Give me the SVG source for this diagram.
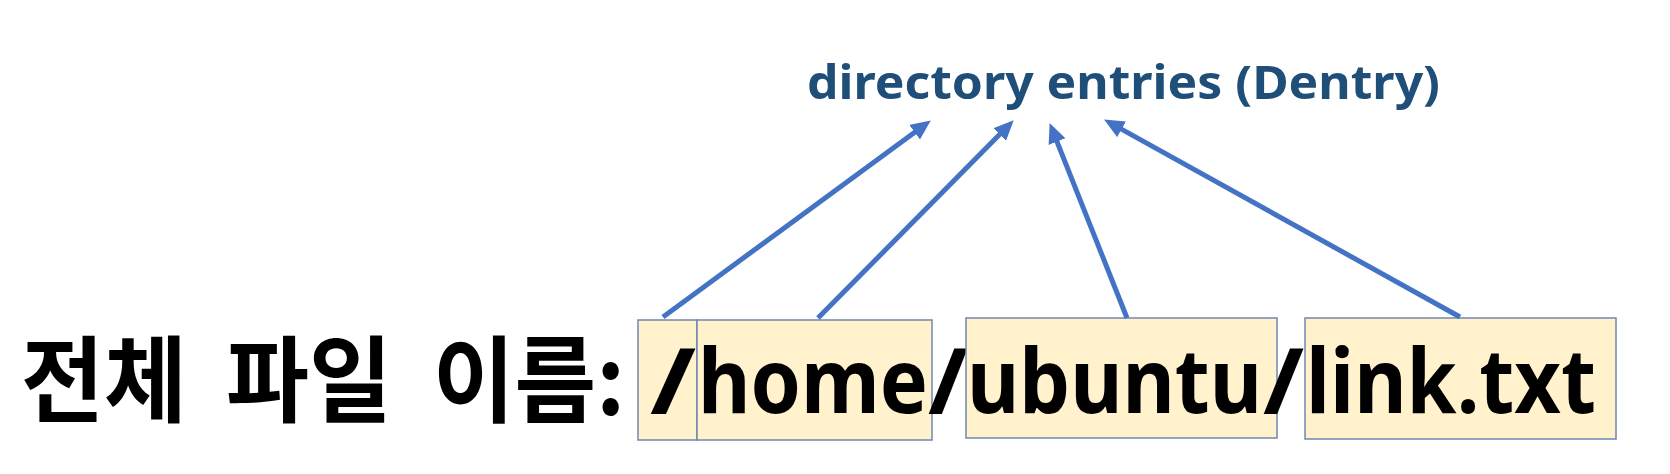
<svg xmlns="http://www.w3.org/2000/svg" width="1670" height="474" viewBox="0 0 1670 474">
<style>
.box{fill:#FFF2CC;stroke:#7186B0;stroke-width:1.5}
.big{font-family:"Noto Sans","Liberation Sans",sans-serif;font-weight:bold;font-size:89px;fill:#000}
.kr{font-family:"Noto Sans CJK KR","Noto Sans",sans-serif;font-weight:bold;font-size:94px;fill:#000}
.title{font-family:"Noto Sans","Liberation Sans",sans-serif;font-weight:bold;font-size:47px;fill:#1F4E79}
.conn{stroke:#4472C4;stroke-width:5;fill:none;marker-end:url(#ah)}
</style>
<defs>
<marker id="ah" markerUnits="userSpaceOnUse" markerWidth="22" markerHeight="20" refX="9" refY="9" orient="auto">
<path d="M0,0 L20,9 L0,18 Z" fill="#4472C4"/>
</marker>
</defs>
<rect width="1670" height="474" fill="#fff"/>
<g id="title">
<text class="title" x="807" y="99" textLength="633" lengthAdjust="spacingAndGlyphs">directory entries (Dentry)</text>
</g>
<g id="label">
<text class="kr" x="21" y="415" textLength="166" lengthAdjust="spacingAndGlyphs">전체</text>
<text class="kr" x="226" y="415" textLength="166" lengthAdjust="spacingAndGlyphs">파일</text>
<text class="kr" x="433" y="415" textLength="192" lengthAdjust="spacingAndGlyphs">이름:</text>
</g>
<g id="node-root">
<rect class="box" x="638" y="320" width="59" height="120"/>
<text class="big" x="650" y="413" textLength="46" lengthAdjust="spacingAndGlyphs">/</text>
</g>
<g id="node-home">
<rect class="box" x="697" y="320" width="235" height="120"/>
<text class="big" x="698" y="413" textLength="230" lengthAdjust="spacingAndGlyphs">home</text>
</g>
<g id="sep1">
<text class="big" x="928" y="413" textLength="40" lengthAdjust="spacingAndGlyphs">/</text>
</g>
<g id="node-ubuntu">
<rect class="box" x="966" y="318" width="311" height="120"/>
<text class="big" x="967" y="413" textLength="295" lengthAdjust="spacingAndGlyphs">ubuntu</text>
</g>
<g id="sep2">
<text class="big" x="1263" y="413" textLength="41" lengthAdjust="spacingAndGlyphs">/</text>
</g>
<g id="node-link">
<rect class="box" x="1305" y="318" width="311" height="121"/>
<text class="big" x="1306" y="413" textLength="290" lengthAdjust="spacingAndGlyphs">link.txt</text>
</g>
<g id="connectors">
<line class="conn" x1="663" y1="317" x2="921.9" y2="126.9"/>
<line class="conn" x1="818" y1="318" x2="1006" y2="128.1"/>
<line class="conn" x1="1127" y1="318" x2="1053.7" y2="133.3"/>
<line class="conn" x1="1460" y1="317" x2="1113.7" y2="124.9"/>
</g>
</svg>
